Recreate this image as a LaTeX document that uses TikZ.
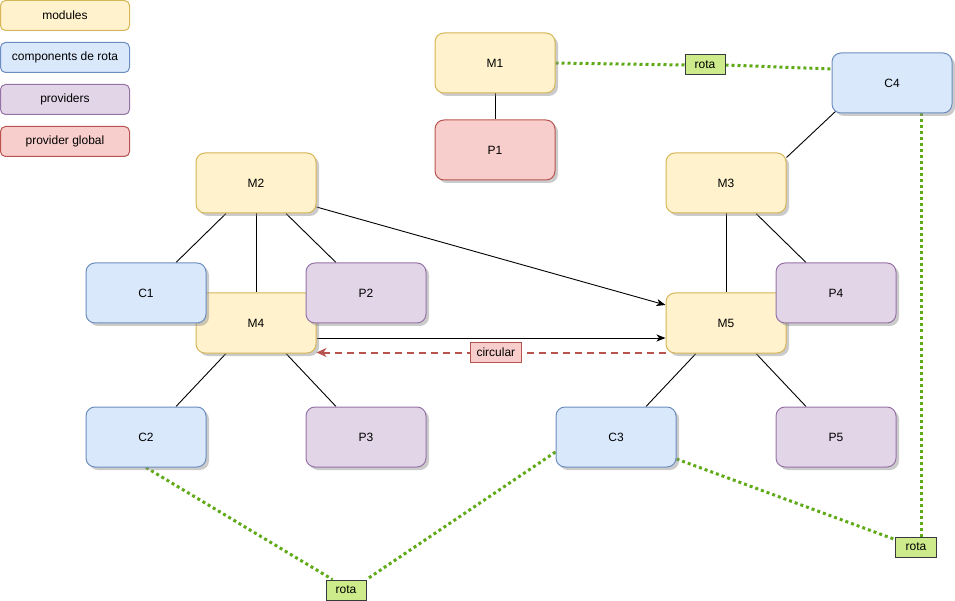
\documentclass[tikz,border=0pt]{standalone}
\usepackage{fontspec}
\setmainfont{Liberation Sans}
\usetikzlibrary{shadows,arrows.meta,calc}
\definecolor{yf}{HTML}{FFF2CC}\definecolor{yd}{HTML}{D6B656}
\definecolor{bf}{HTML}{DAE8FC}\definecolor{bd}{HTML}{6C8EBF}
\definecolor{pf}{HTML}{E1D5E7}\definecolor{pd}{HTML}{9673A6}
\definecolor{rf}{HTML}{F8CECC}\definecolor{rd}{HTML}{B85450}
\definecolor{gf}{HTML}{CDEB8B}\definecolor{gd}{HTML}{36393D}
\definecolor{gl}{HTML}{60A917}
\pgfdeclarelayer{bg}
\pgfsetlayers{bg,main}
\begin{document}
\begin{tikzpicture}[x=1pt,y=-1pt,font=\fontsize{12pt}{14pt}\selectfont,
  box/.style={rectangle,rounded corners=9pt,minimum width=120pt,minimum height=60pt,inner sep=0pt,line width=1pt,
    drop shadow={shadow xshift=3pt,shadow yshift=-3pt,fill=black!45,opacity=0.45}},
  modb/.style={box,fill=yf,draw=yd},
  cmpb/.style={box,fill=bf,draw=bd},
  prvb/.style={box,fill=pf,draw=pd},
  glbb/.style={box,fill=rf,draw=rd},
  leg/.style={rectangle,rounded corners=5pt,minimum width=129pt,minimum height=30pt,inner sep=0pt,line width=1pt},
  rotab/.style={rectangle,fill=gf,draw=gd,line width=1pt,minimum width=40pt,minimum height=20pt,inner sep=0pt},
  circb/.style={rectangle,fill=rf,draw=rd,line width=1pt,minimum width=51pt,minimum height=20pt,inner sep=0pt},
  ln/.style={draw=black,line width=0.9pt},
  arr/.style={ln,-{Stealth[length=9pt,width=7pt,inset=2.5pt]}},
  dsh/.style={draw=rd,line width=2pt,dash pattern=on 7pt off 5pt,-{Stealth[length=10pt,width=9pt,inset=3pt]}},
  grn/.style={draw=gl,line width=3pt,dash pattern=on 3pt off 3pt}
]
\useasboundingbox (0,0) rectangle (955,601);
% legend
\node[leg,fill=yf,draw=yd] (Lmod) at (65,15.5) {modules};
\node[leg,fill=bf,draw=bd] (Lcmp) at (65,57.5) {components de rota};
\node[leg,fill=pf,draw=pd] (Lprv) at (65,99.5) {providers};
\node[leg,fill=rf,draw=rd] (Lglb) at (65,141.5) {provider global};
% main nodes
\node[modb] (M1) at (495,63) {M1};
\node[glbb] (P1) at (495,150) {P1};
\node[cmpb] (C4) at (892,83) {C4};
\node[modb] (M2) at (256,183) {M2};
\node[modb] (M3) at (726,183) {M3};
\node[modb] (M4) at (256,323) {M4};
\node[modb] (M5) at (726,323) {M5};
\node[cmpb] (C1) at (146,293) {C1};
\node[prvb] (P2) at (366,293) {P2};
\node[prvb] (P4) at (836,293) {P4};
\node[cmpb] (C2) at (146,437) {C2};
\node[prvb] (P3) at (366,437) {P3};
\node[cmpb] (C3) at (616,437) {C3};
\node[prvb] (P5) at (836,437) {P5};
% rota labels
\node[rotab] (rotaT) at (705,65) {rota};
\node[rotab] (rotaB) at (346,590) {rota};
\node[rotab,minimum width=41pt] (rotaR) at (916,547) {rota};
\coordinate (c4g) at ($(C4.south)+(29,0)$);
\begin{pgfonlayer}{bg}
\draw[ln] (M1) -- (P1);
\draw[ln] ($(M2.south)+(-30,0)$) -- ($(C1.north)+(30,0)$);
\draw[ln] (M2) -- (M4);
\draw[ln] ($(M2.south)+(30,0)$) -- ($(P2.north)+(-30,0)$);
\draw[arr] ($(M2.east)+(0,24)$) -- ($(M5.west)+(0,-18)$);
\draw[arr] ($(M4.east)+(0,15)$) -- ($(M5.west)+(0,15)$);
\draw[dsh] ($(M5.west)+(0,29.5)$) -- node[circb,pos=0.486,solid] (circ) {circular} ($(M4.east)+(0,29.5)$);
\draw[ln] (M3) -- (M5);
\draw[ln] ($(M3.south)+(30,0)$) -- ($(P4.north)+(-30,0)$);
\draw[ln] ($(C4.south west)+(5,-3)$) -- ($(M3.north east)+(0,5)$);
\draw[ln] ($(M4.south)+(-30,0)$) -- ($(C2.north)+(30,0)$);
\draw[ln] ($(M4.south)+(30,0)$) -- ($(P3.north)+(-30,0)$);
\draw[ln] ($(M5.south)+(-30,0)$) -- ($(C3.north)+(30,0)$);
\draw[ln] ($(M5.south)+(30,0)$) -- ($(P5.north)+(-30,0)$);
% green route links
\draw[grn] (M1.east) -- (rotaT.west);
\draw[grn] (rotaT.east) -- ($(C4.west)+(0,-14)$);
\draw[grn] (c4g) -- (c4g |- rotaR.north);
\draw[grn] ($(C3.east)+(0,22)$) -- ($(rotaR.north west)+(0,3)$);
\draw[grn] (C2.south) -- ($(rotaB.north west)+(7,0)$);
\draw[grn] ($(C3.west)+(0,15)$) -- (rotaB.north east);
\end{pgfonlayer}
\end{tikzpicture}
\end{document}
